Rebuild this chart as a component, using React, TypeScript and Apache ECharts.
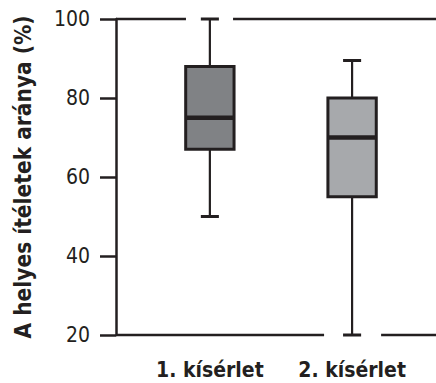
import React, { useEffect, useRef } from "react";
import * as echarts from "echarts";

const categories = ["1. kísérlet", "2. kísérlet"];
const categoryX = [1, 2];
// [low, q1, median, q3, high]
const boxValues = [
  [50, 67, 75, 88, 100],
  [20, 55, 70, 80, 89.5],
];
const boxColors = ["#808285", "#a7a9ac"];
const yTicks = [20, 40, 60, 80, 100];
const yName = "A helyes ítéletek aránya (%)";
// frame segments [xStart, xEnd, y]
const frameSegments = [
  [0.34, 0.832, 100],
  [1.163, 2.6, 100],
  [0.34, 1.803, 20],
  [2.204, 2.6, 20],
];

const INK = "#231f20";
const FONT = "'Liberation Sans Narrow', 'DejaVu Sans Condensed', 'Arial Narrow', sans-serif";

export default function App() {
  const ref = useRef<HTMLDivElement>(null);
  useEffect(() => {
    if (!ref.current) return;
    const chart = echarts.init(ref.current, null, { renderer: "svg" });
    const boxData = boxValues.map((v, i) => [categoryX[i], ...v]);
    chart.setOption({
      animation: false,
      grid: { left: 116, right: 0, top: 19, bottom: 48 },
      xAxis: {
        type: "value",
        min: 0.34,
        max: 2.59,
        axisLine: { show: false },
        axisTick: { show: false },
        splitLine: { show: false },
        axisLabel: {
          customValues: categoryX,
          formatter: (v: number) => categories[categoryX.indexOf(v)] ?? "",
          fontFamily: FONT,
          fontWeight: "bold",
          fontSize: 21,
          color: INK,
          margin: 24,
        },
      },
      yAxis: {
        type: "value",
        min: 20,
        max: 100,
        interval: 20,
        name: yName,
        nameLocation: "middle",
        nameRotate: 90,
        nameGap: 82,
        nameTextStyle: { fontFamily: FONT, fontWeight: "bold", fontSize: 22.5, color: INK },
        axisLine: { show: true, lineStyle: { color: INK, width: 2.5 } },
        axisTick: { show: true, length: 16, lineStyle: { color: INK, width: 2.5 } },
        splitLine: { show: false },
        axisLabel: {
          fontFamily: FONT,
          fontSize: 21,
          color: INK,
          margin: 26,
          customValues: yTicks,
        },
      },
      series: [
        {
          type: "custom",
          data: frameSegments,
          clip: false,
          renderItem: (params: any, api: any) => {
            const a = api.coord([api.value(0), api.value(2)]);
            const b = api.coord([api.value(1), api.value(2)]);
            return {
              type: "line",
              shape: { x1: a[0], y1: a[1], x2: b[0], y2: b[1] },
              style: { stroke: INK, lineWidth: 2.5 },
            };
          },
        },
        {
          type: "custom",
          data: boxData,
          clip: false,
          renderItem: (params: any, api: any) => {
            const x = api.value(0);
            const low = api.coord([x, api.value(1)]);
            const q1 = api.coord([x, api.value(2)]);
            const med = api.coord([x, api.value(3)]);
            const q3 = api.coord([x, api.value(4)]);
            const high = api.coord([x, api.value(5)]);
            const half = api.size([0.34, 0])[0] / 2;
            const cap = api.size([0.127, 0])[0] / 2;
            const cx = low[0];
            return {
              type: "group",
              children: [
                { type: "line", shape: { x1: cx, y1: low[1], x2: cx, y2: q1[1] }, style: { stroke: INK, lineWidth: 2.2 } },
                { type: "line", shape: { x1: cx, y1: q3[1], x2: cx, y2: high[1] }, style: { stroke: INK, lineWidth: 2.2 } },
                { type: "line", shape: { x1: cx - cap, y1: low[1], x2: cx + cap, y2: low[1] }, style: { stroke: INK, lineWidth: 3 } },
                { type: "line", shape: { x1: cx - cap, y1: high[1], x2: cx + cap, y2: high[1] }, style: { stroke: INK, lineWidth: 3 } },
                {
                  type: "rect",
                  shape: { x: cx - half, y: q3[1], width: half * 2, height: q1[1] - q3[1] },
                  style: { fill: boxColors[params.dataIndex], stroke: INK, lineWidth: 3 },
                },
                { type: "line", shape: { x1: cx - half, y1: med[1], x2: cx + half, y2: med[1] }, style: { stroke: INK, lineWidth: 4.5 } },
              ],
            };
          },
        },
      ],
    });
    return () => chart.dispose();
  }, []);
  return <div ref={ref} style={{ width: 436, height: 383, position: "absolute", left: 0, top: 0 }} />;
}
